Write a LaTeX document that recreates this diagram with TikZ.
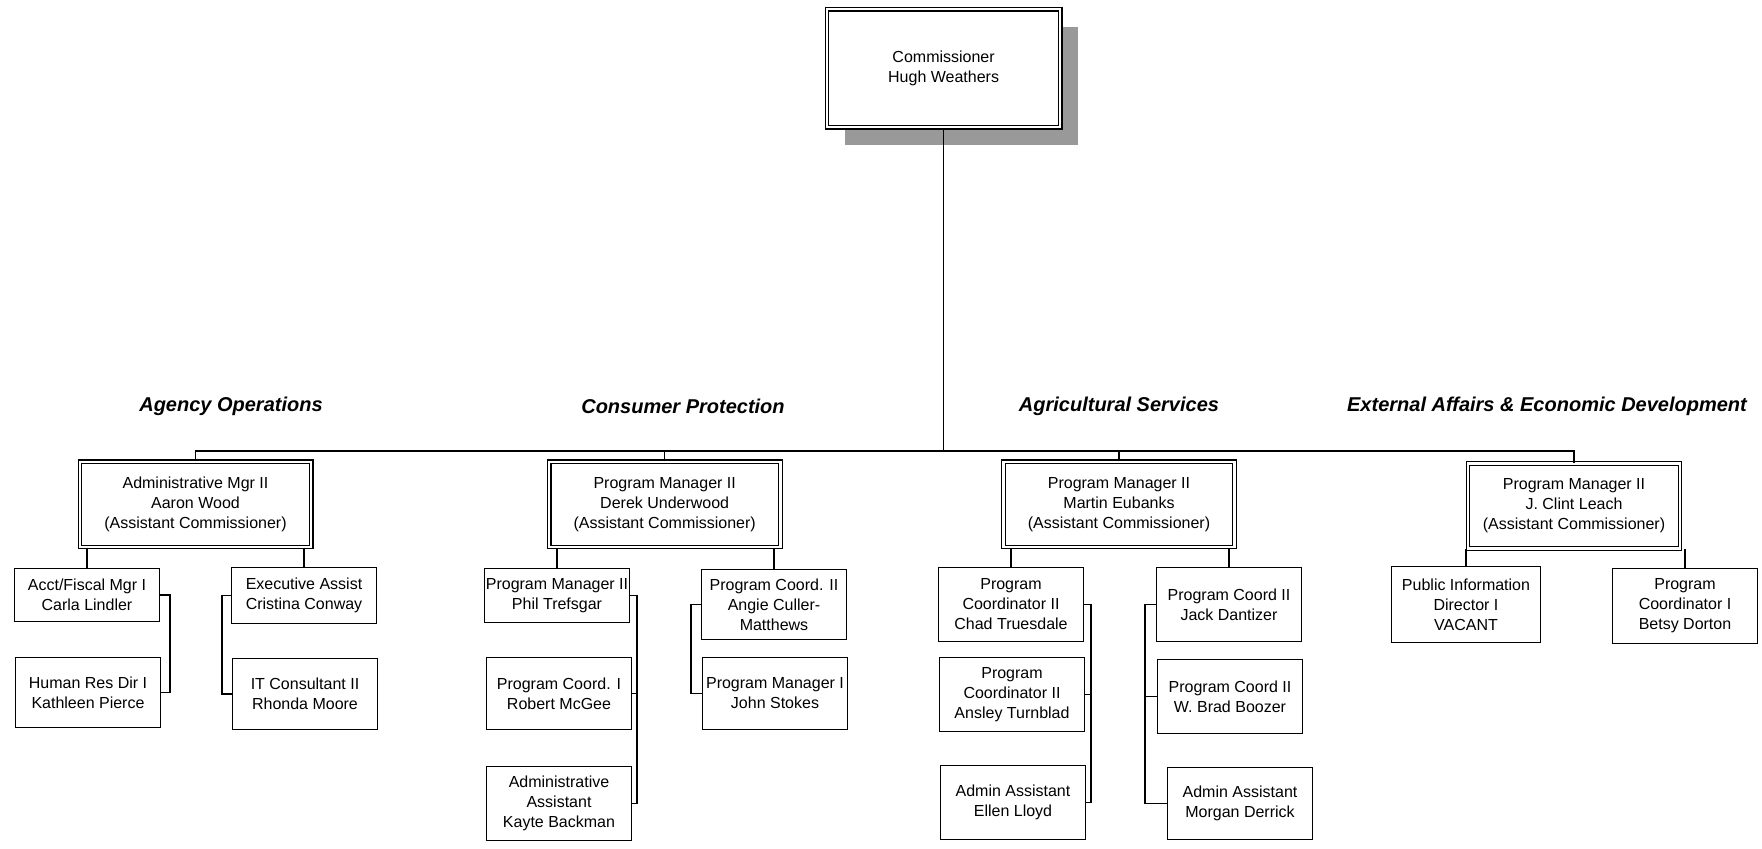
\documentclass[tikz,border=0pt]{standalone}
\usepackage{fontspec}
\setmainfont{Liberation Sans}
\usepackage{tikz}
\usetikzlibrary{positioning, shadows}

\begin{document}
\begin{tikzpicture}[x=0.5pt, y=-0.5pt,
  every node/.style={font=\fontsize{8}{10}\selectfont, align=center},
  chief/.style={draw, line width=0.6pt, double, double distance=1.2pt, fill=white,
    minimum width=116.6pt, minimum height=59pt,
    drop shadow={shadow xshift=9pt, shadow yshift=-9pt, fill=gray!80, opacity=1}},
  head/.style={draw, line width=0.6pt, double, double distance=1.2pt,
    minimum width=115.6pt, minimum height=42.6pt},
  staff/.style={draw, line width=0.6pt, inner xsep=0.5pt, minimum width=72.4pt,
    minimum height=36.9pt, anchor=north},
  division/.style={font=\fontsize{10}{12}\selectfont\bfseries\itshape},
  link/.style={line width=0.6pt}]
\useasboundingbox (0,0) rectangle (1762,849);

% Nodes
\node[chief] (comm) at (943.6,68.3) {Commissioner\\Hugh Weathers};

\node[head] (ops) at (195.5,504.5) {Administrative Mgr II\\Aaron Wood\\(Assistant Commissioner)};
\node[head] (cons) at (664.7,504.5) {Program Manager II\\Derek Underwood\\(Assistant Commissioner)};
\node[head] (agri) at (1119,504.5) {Program Manager II\\Martin Eubanks\\(Assistant Commissioner)};
\node[head, minimum width=106pt] (ext) at (1574,506) {Program Manager II\\J. Clint Leach\\(Assistant Commissioner)};

\node[staff, minimum height=26.4pt] (acct) at (87,568) {Acct/Fiscal Mgr I\\Carla Lindler};
\node[staff, minimum height=34.9pt] (hr) at (88,657) {Human Res Dir I\\Kathleen Pierce};
\node[staff, minimum height=27.9pt] (exec) at (304,567) {Executive Assist\\Cristina Conway};
\node[staff, minimum height=35.4pt] (itc) at (305,658) {IT Consultant II\\Rhonda Moore};

\node[staff, minimum height=26.9pt] (phil) at (557,568) {Program Manager II\\Phil Trefsgar};
\node[staff, minimum height=35.9pt] (robert) at (559,657) {Program Coord. I\\Robert McGee};
\node[staff] (kayte) at (559,766) {Administrative\\Assistant\\Kayte Backman};
\node[staff, minimum height=34.9pt] (angie) at (774,569) {Program Coord. II\\Angie Culler-\\Matthews};
\node[staff, minimum height=35.9pt] (john) at (775,657) {Program Manager I\\John Stokes};

\node[staff] (chad) at (1011,567) {Program\\Coordinator II\\Chad Truesdale};
\node[staff] (ansley) at (1012,657) {Program\\Coordinator II\\Ansley Turnblad};
\node[staff] (ellen) at (1013,765) {Admin Assistant\\Ellen Lloyd};
\node[staff] (jack) at (1229,567) {Program Coord II\\Jack Dantizer};
\node[staff] (brad) at (1230,659) {Program Coord II\\W. Brad Boozer};
\node[staff, minimum height=35.9pt] (morgan) at (1240,767) {Admin Assistant\\Morgan Derrick};

\node[staff, minimum width=74.4pt, minimum height=37.9pt] (pub) at (1466,566) {Public Information\\Director I\\VACANT};
\node[staff, minimum height=37.4pt] (betsy) at (1685,568) {Program\\Coordinator I\\Betsy Dorton};

% Labels
\node[division] (opsT) at (231,406) {Agency Operations};
\node[division] (consT) at (683,406) {Consumer Protection};
\node[division] (agriT) at (1119,406) {Agricultural Services};
\node[division] (extT) at (1547,406) {External Affairs \& Economic Development};

% Lines
\coordinate (bus) at (943.6,451);
\draw[link] (comm) -- (bus);
\draw[link] (ops.north) -- (ops.north |- bus) -- (ext.north |- bus) -- (ext.north);
\draw[link] (cons.north) -- (cons.north |- bus);
\draw[link] (agri.north) -- (agri.north |- bus);

\draw[link] (ops.south -| acct.north) -- (acct.north);
\draw[link] (ops.south -| exec.north) -- (exec.north);
\draw[link] (acct.east) -- ++(10,0) |- (hr.east);
\draw[link] (exec.west) -- ++(-9,0) |- (itc.west);

\draw[link] (cons.south -| phil.north) -- (phil.north);
\draw[link] (cons.south -| angie.north) -- (angie.north);
\draw[link] (phil.east) -- ++(7,0) coordinate (consL) |- (kayte.east);
\draw[link] (robert.east) -- (robert.east -| consL);
\draw[link] (angie.west) -- ++(-10,0) |- (john.west);

\draw[link] (agri.south -| chad.north) -- (chad.north);
\draw[link] (agri.south -| jack.north) -- (jack.north);
\draw[link] (chad.east) -- ++(7,0) coordinate (agriL) |- (ellen.east);
\draw[link] (ansley.east) -- (ansley.east -| agriL);
\draw[link] (jack.west) -- ++(-11,0) coordinate (agriR) |- (morgan.west);
\draw[link] (brad.west) -- (brad.west -| agriR);

\draw[link] (ext.south -| pub.north) -- (pub.north);
\draw[link] (ext.south -| betsy.north) -- (betsy.north);
\end{tikzpicture}
\end{document}
